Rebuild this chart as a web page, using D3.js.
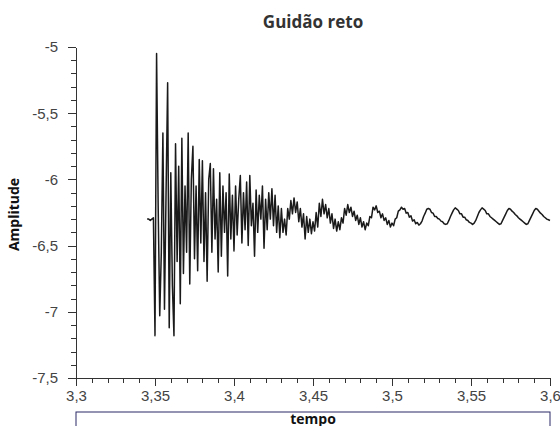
<!DOCTYPE html>
<html>
<head>
<meta charset="utf-8">
<script src="https://cdn.jsdelivr.net/npm/d3@7/dist/d3.min.js"></script>
<style>
  body { margin: 0; background: #fff; }
  svg { display: block; font-family: 'Open Sans', 'DejaVu Sans', sans-serif; }
  .axis path, .axis line { stroke: #333; shape-rendering: crispEdges; }
  .axis text { fill: #444; font-size: 15px; }
</style>
</head>
<body>
<div class="svg-container"></div>
<script>
// Chart data
var title = 'Guidão reto';
var xLabel = 'tempo';
var yLabel = 'Amplitude';
var xDomain = [3.3, 3.6];
var yDomain = [-7.5, -5];
var startTime = 3.345;
var sampleStep = 0.001;
var amplitude = [
	-6.30, -6.30, -6.31, -6.30, -6.29, -7.18, -5.05, -6.20, -7.03, -6.55,
	-5.65, -6.98, -6.10, -5.27, -7.12, -5.95, -6.80, -7.18, -5.73, -6.62,
	-5.90, -6.94, -5.69, -6.71, -6.05, -6.55, -5.65, -6.79, -6.00, -5.75,
	-6.60, -6.05, -6.69, -5.85, -6.48, -5.86, -6.62, -6.10, -6.77, -6.00,
	-5.88, -6.55, -5.92, -6.45, -6.15, -6.70, -5.95, -6.58, -6.05, -6.40,
	-6.10, -6.73, -5.96, -6.45, -6.12, -6.54, -6.05, -6.42, -6.15, -5.97,
	-6.48, -6.10, -6.38, -6.02, -6.50, -5.97, -6.35, -6.18, -6.58, -6.08,
	-6.40, -6.12, -6.30, -6.05, -6.52, -6.15, -6.38, -6.10, -6.30, -6.07,
	-6.35, -6.12, -6.40, -6.20, -6.44, -6.22, -6.40, -6.30, -6.42, -6.22,
	-6.30, -6.16, -6.26, -6.14, -6.25, -6.17, -6.32, -6.22, -6.36, -6.26,
	-6.45, -6.28, -6.40, -6.30, -6.41, -6.32, -6.39, -6.25, -6.36, -6.18,
	-6.28, -6.15, -6.26, -6.19, -6.29, -6.22, -6.33, -6.26, -6.37, -6.30,
	-6.39, -6.32, -6.38, -6.29, -6.33, -6.22, -6.27, -6.19, -6.25, -6.21,
	-6.28, -6.24, -6.31, -6.27, -6.34, -6.29, -6.36, -6.32, -6.38, -6.33,
	-6.35, -6.28, -6.29, -6.21, -6.23, -6.20, -6.25, -6.24, -6.29, -6.26,
	-6.31, -6.29, -6.34, -6.31, -6.36, -6.33, -6.35, -6.30, -6.29, -6.24,
	-6.23, -6.21, -6.225, -6.22, -6.255, -6.25, -6.285, -6.275, -6.315, -6.305,
	-6.335, -6.325, -6.345, -6.335, -6.315, -6.28, -6.255, -6.225, -6.22, -6.225,
	-6.25, -6.255, -6.28, -6.28, -6.295, -6.30, -6.315, -6.32, -6.335, -6.34,
	-6.335, -6.31, -6.28, -6.255, -6.23, -6.215, -6.225, -6.235, -6.26, -6.26,
	-6.285, -6.285, -6.305, -6.31, -6.325, -6.33, -6.34, -6.33, -6.31, -6.28,
	-6.25, -6.23, -6.215, -6.225, -6.235, -6.26, -6.26, -6.28, -6.29, -6.30,
	-6.31, -6.32, -6.33, -6.34, -6.335, -6.31, -6.285, -6.26, -6.235, -6.22,
	-6.225, -6.24, -6.25, -6.265, -6.275, -6.29, -6.30, -6.31, -6.32, -6.33,
	-6.34, -6.335, -6.31, -6.285, -6.26, -6.235, -6.22, -6.225, -6.24, -6.255,
	-6.265, -6.28, -6.29, -6.30, -6.305, -6.31
];

var width = 560;
var height = 426;
var plotLeft = 76, plotRight = 550, plotTop = 47, plotBottom = 378;

var fmt = function(d) {
	return String(+d.toFixed(2)).replace('.', ',');
};

// Create SVG element
var svg = d3.select('.svg-container')
	.append('svg')
	.attr('width', width)
	.attr('height', height);

// Set up scales
var xScale = d3.scaleLinear()
	.domain(xDomain)
	.range([plotLeft, plotRight]);

var yScale = d3.scaleLinear()
	.domain(yDomain)
	.range([plotBottom, plotTop]);

// Minor ticks
svg.append('g')
	.attr('class', 'axis')
	.attr('transform', 'translate(0,' + plotBottom + ')')
	.call(d3.axisBottom(xScale).tickValues(xScale.ticks(30)).tickSize(5).tickFormat(''))
	.select('.domain').remove();

svg.append('g')
	.attr('class', 'axis')
	.attr('transform', 'translate(' + plotLeft + ',0)')
	.call(d3.axisLeft(yScale).tickValues(yScale.ticks(25)).tickSize(5).tickFormat(''))
	.select('.domain').remove();

// Major axes
svg.append('g')
	.attr('class', 'axis')
	.attr('transform', 'translate(0,' + plotBottom + ')')
	.call(d3.axisBottom(xScale).tickValues(xScale.ticks(6)).tickSizeInner(8).tickSizeOuter(0).tickPadding(4).tickFormat(fmt));

svg.append('g')
	.attr('class', 'axis')
	.attr('transform', 'translate(' + plotLeft + ',0)')
	.call(d3.axisLeft(yScale).tickValues(yScale.ticks(5)).tickSizeInner(8).tickSizeOuter(0).tickPadding(10).tickFormat(fmt));

// Signal line
var line = d3.line()
	.x(function(d, i) { return xScale(startTime + i * sampleStep); })
	.y(function(d) { return yScale(d); });

svg.append('path')
	.datum(amplitude)
	.attr('fill', 'none')
	.attr('stroke', '#1a1a1a')
	.attr('stroke-width', 1.5)
	.attr('stroke-linejoin', 'round')
	.attr('d', line);

// Title
svg.append('text')
	.attr('x', (plotLeft + plotRight) / 2)
	.attr('y', 28)
	.attr('text-anchor', 'middle')
	.style('font-size', '17px')
	.style('font-weight', 'bold')
	.style('fill', '#333')
	.text(title);

// Y label
svg.append('text')
	.attr('transform', 'translate(19,' + ((plotTop + plotBottom) / 2 + 2) + ') rotate(-90)')
	.attr('text-anchor', 'middle')
	.style('font-size', '14px')
	.style('font-weight', 'bold')
	.style('fill', '#111')
	.text(yLabel);

// X label box
svg.append('rect')
	.attr('x', plotLeft)
	.attr('y', 412)
	.attr('width', plotRight - plotLeft)
	.attr('height', 30)
	.attr('fill', 'none')
	.attr('stroke', '#2b2b66')
	.attr('stroke-width', 1);

svg.append('text')
	.attr('x', (plotLeft + plotRight) / 2)
	.attr('y', 424)
	.attr('text-anchor', 'middle')
	.style('font-size', '14px')
	.style('font-weight', 'bold')
	.style('fill', '#111')
	.text(xLabel);
</script>
</body>
</html>
